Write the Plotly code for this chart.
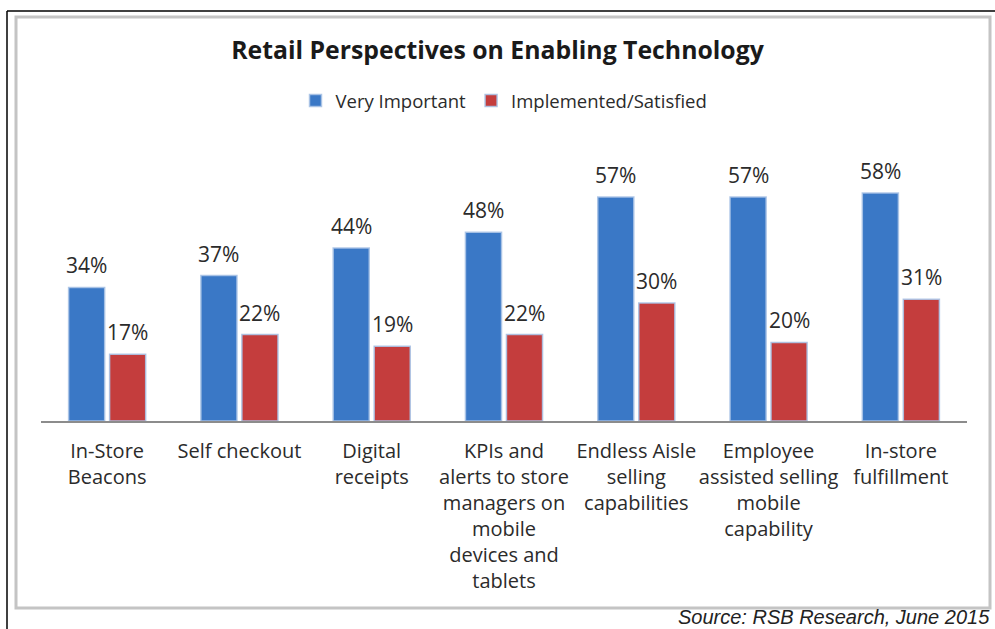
import plotly.graph_objects as go

categories = [
    "In-Store<br>Beacons",
    "Self checkout",
    "Digital<br>receipts",
    "KPIs and<br>alerts to store<br>managers on<br>mobile<br>devices and<br>tablets",
    "Endless Aisle<br>selling<br>capabilities",
    "Employee<br>assisted selling<br>mobile<br>capability",
    "In-store<br>fulfillment",
]
very_important = [34, 37, 44, 48, 57, 57, 58]
implemented = [17, 22, 19, 22, 30, 20, 31]
series_names = ["Very Important", "Implemented/Satisfied"]

W, H = 995, 629
ML, MR, MT, MB = 41, 28, 160, 208
PW = W - ML - MR
PH = H - MT - MB
BARGAP = 0.38
GROUPGAP = 0.12


def px(x):
    return (x - ML) / PW


def py(y):
    return (H - MB - y) / PH


FONT = "'Open Sans', Lato, sans-serif"
TXT = "#2b2b2b"
OUTLINE = dict(color="rgba(170,195,230,0.9)", width=1.5)

fig = go.Figure()
fig.add_trace(go.Bar(x=categories, y=very_important, name=series_names[0],
                     marker=dict(color="#3a78c6", line=OUTLINE)))
fig.add_trace(go.Bar(x=categories, y=implemented, name=series_names[1],
                     marker=dict(color="#c43d3d", line=OUTLINE)))

# value labels centred over each bar, lifted above the bar top
slot = PW / len(categories)
half = slot * (1 - BARGAP) / 4
for vals, sign in ((very_important, -1), (implemented, 1)):
    for c, v in zip(categories, vals):
        fig.add_annotation(x=c, y=v, text=f"{v}%", showarrow=False,
                           xref="x", yref="y", xanchor="center", yanchor="bottom",
                           xshift=sign * half, yshift=6,
                           font=dict(size=21, color=TXT, family=FONT))

fig.update_layout(
    width=W, height=H,
    margin=dict(l=ML, r=MR, t=MT, b=MB, autoexpand=False),
    paper_bgcolor="white", plot_bgcolor="white",
    barmode="group", bargap=BARGAP, bargroupgap=GROUPGAP,
    font=dict(family=FONT, color=TXT),
    title=dict(text="<b>Retail Perspectives on Enabling Technology</b>",
               x=0.5, xanchor="center", y=1 - 50 / H, yanchor="middle",
               font=dict(size=24.8, color="#1a1a1a", family=FONT)),
    legend=dict(orientation="h", x=0.5, xanchor="center", y=py(101), yanchor="middle",
                font=dict(size=18.5, color=TXT, family=FONT), itemwidth=30,
                traceorder="normal", bgcolor="rgba(0,0,0,0)"),
    showlegend=True,
)
fig.update_xaxes(showgrid=False, showline=True, linecolor="#8c8c8c", linewidth=2,
                 ticks="outside", ticklen=11, tickcolor="rgba(0,0,0,0)",
                 tickfont=dict(size=20, color=TXT, family=FONT), tickangle=0)
fig.update_yaxes(visible=False, range=[0, PH / 3.93], showgrid=False)

shapes = [
    dict(type="rect", xref="paper", yref="paper",
         x0=px(16), x1=px(990), y0=py(608), y1=py(17),
         line=dict(color="#c4c4c4", width=3), layer="below"),
    dict(type="line", xref="paper", yref="paper",
         x0=px(7), x1=px(1000), y0=py(11), y1=py(11),
         line=dict(color="black", width=1.5)),
    dict(type="line", xref="paper", yref="paper",
         x0=px(7), x1=px(7), y0=py(11), y1=py(640),
         line=dict(color="black", width=1.5)),
]
fig.update_layout(shapes=shapes)

fig.add_annotation(text="<i>Source: RSB Research, June 2015</i>",
                   xref="paper", yref="paper", x=px(991), y=py(629),
                   xanchor="right", yanchor="bottom", showarrow=False, borderpad=0,
                   font=dict(size=20, color="#222", family="'Liberation Sans', Arial, sans-serif"))

fig.write_html("out.html")
